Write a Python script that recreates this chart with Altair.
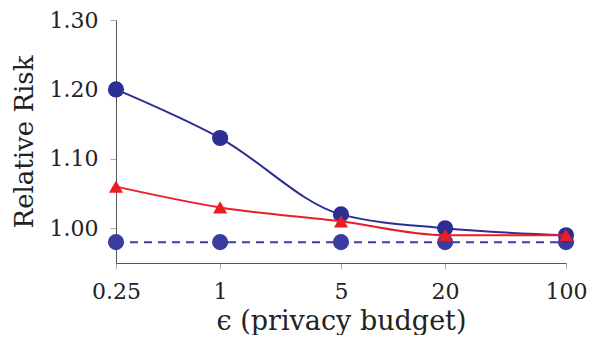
import altair as alt
import pandas as pd

eps = [0.25, 1, 5, 20, 100]
blue_solid = [1.20, 1.13, 1.02, 1.00, 0.99]
red_tri = [1.06, 1.03, 1.01, 0.99, 0.99]
blue_dashed = [0.98, 0.98, 0.98, 0.98, 0.98]

BLUE = "#2c2f92"
RED = "#ec1c24"
FONT = "DejaVu Serif"

def df(vals, name):
    return pd.DataFrame({"eps": eps, "rr": vals, "series": name})

axis_style = dict(labelFont=FONT, titleFont=FONT, labelFontSize=22, labelFlush=False,
                  titleFontWeight="normal", labelColor="#222222", titleColor="#222222",
                  grid=False, tickColor="#aaaaaa", tickSize=6, domainColor="#555555")

x = alt.X("eps:Q", scale=alt.Scale(type="log", domain=[0.25, 100], nice=False),
          axis=alt.Axis(values=eps, format="~g", title="ϵ (privacy budget)",
                        titleFontSize=27, labelPadding=12, titlePadding=6, **axis_style))
y = alt.Y("rr:Q", scale=alt.Scale(domain=[0.95, 1.30], nice=False, zero=False),
          axis=alt.Axis(values=[1.0, 1.1, 1.2, 1.3], format=".2f", title="Relative Risk",
                        titleFontSize=26, labelPadding=12, titlePadding=12, **axis_style))

def series(vals, color, shape, dash=None, interp="monotone"):
    d = df(vals, "s")
    base = alt.Chart(d)
    lk = dict(color=color, strokeWidth=2, interpolate=interp)
    if dash:
        lk["strokeDash"] = dash
    line = base.mark_line(**lk).encode(x=x, y=y)
    pts = base.mark_point(filled=True, opacity=1, color=color, shape=shape,
                          size=260 if shape == "circle" else 200).encode(x=x, y=y)
    return line + pts

chart = alt.layer(
    series(blue_dashed, "#3a3d9e", "circle", dash=[8, 6], interp="linear"),
    series(blue_solid, BLUE, "circle"),
    series(red_tri, RED, "triangle-up"),
).properties(
    width=450, height=243,
    autosize=alt.AutoSizeParams(type="none"),
    padding={"left": 108, "top": 12, "right": 24, "bottom": 72},
).configure_view(stroke=None)

chart.save("out.html", embed_options={"renderer": "svg", "actions": False})
